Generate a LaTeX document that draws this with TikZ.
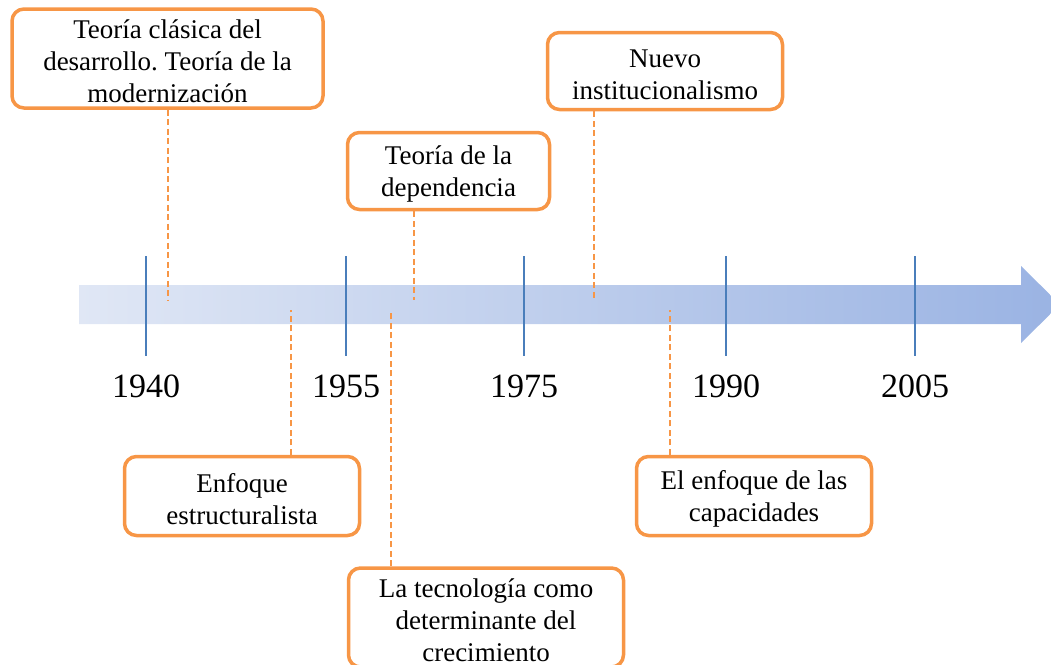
\documentclass[tikz,border=0pt]{standalone}
\usepackage{fontspec}
\setmainfont{Liberation Serif}
\frenchspacing
\definecolor{boxorange}{HTML}{F79646}
\definecolor{tickblue}{HTML}{4A7EBB}
\definecolor{barlight}{HTML}{E0E7F5}
\definecolor{bardark}{HTML}{9AB3E3}
\newcommand{\topstrut}{\rule{0pt}{25pt}}

\begin{document}
\begin{tikzpicture}[x=1pt,y=-1pt,
  box/.style={draw=boxorange,line width=3.5pt,rounded corners=12pt,fill=white,
    align=center,inner sep=0pt,font=\fontsize{27}{32}\selectfont},
  lead/.style={draw=boxorange,line width=1.5pt,dash pattern=on 6pt off 3.5pt},
  yearlab/.style={anchor=base,font=\fontsize{34}{40}\selectfont},
  tick/.style={draw=tickblue,line width=1.5pt}]
\useasboundingbox (0,0) rectangle (1051,664);
% the time axis
\shade[left color=barlight,right color=bardark] (79,285) -- (1021,285) -- (1021,266)
  -- (1060,304.5) -- (1021,343) -- (1021,324) -- (79,324) -- cycle;
\foreach \x/\lab [count=\i] in {146/1940,346/1955,524/1975,726/1990,915/2005}{
  \coordinate (ta\i) at (\x,256);
  \coordinate (tb\i) at (\x,356);
  \draw[tick] (ta\i) -- (tb\i);
  \node[yearlab] (yr\i) at (\x,397) {\lab};
}
% end points of the dashed leads on the axis
\coordinate (clasicaend) at (168,300);
\coordinate (dependend) at (414,300);
\coordinate (instend) at (594,300);
\coordinate (estrucend) at (291,310);
\coordinate (tecnoend) at (391,310);
\coordinate (capacend) at (670,310);
% boxes above the axis
\node[box,minimum width=311pt,minimum height=99pt] (clasica) at (167.5,58.5)
  {\topstrut Teoría clásica del\\desarrollo. Teoría de la\\modernización};
\node[box,minimum width=202pt,minimum height=77pt] (depend) at (448.5,171)
  {\topstrut Teoría de la\\dependencia};
\node[box,minimum width=235pt,minimum height=77pt] (inst) at (665,71)
  {\topstrut Nuevo\\institucionalismo};
% boxes below the axis
\node[box,minimum width=235pt,minimum height=79pt] (estruc) at (242,496)
  {\topstrut Enfoque\\estructuralista};
\node[box,minimum width=275pt,minimum height=99pt] (tecno) at (486,617.5)
  {\topstrut La tecnología como\\determinante del\\crecimiento};
\node[box,minimum width=235pt,minimum height=79pt] (capac) at (754,496)
  {\topstrut El enfoque de las\\capacidades};
% dashed leads
\draw[lead] (clasica.south -| clasicaend) -- (clasicaend);
\draw[lead] (depend.south -| dependend) -- (dependend);
\draw[lead] (inst.south -| instend) -- (instend);
\draw[lead] (estruc.north -| estrucend) -- (estrucend);
\draw[lead] (tecno.north -| tecnoend) -- (tecnoend);
\draw[lead] (capac.north -| capacend) -- (capacend);
\end{tikzpicture}
\end{document}
